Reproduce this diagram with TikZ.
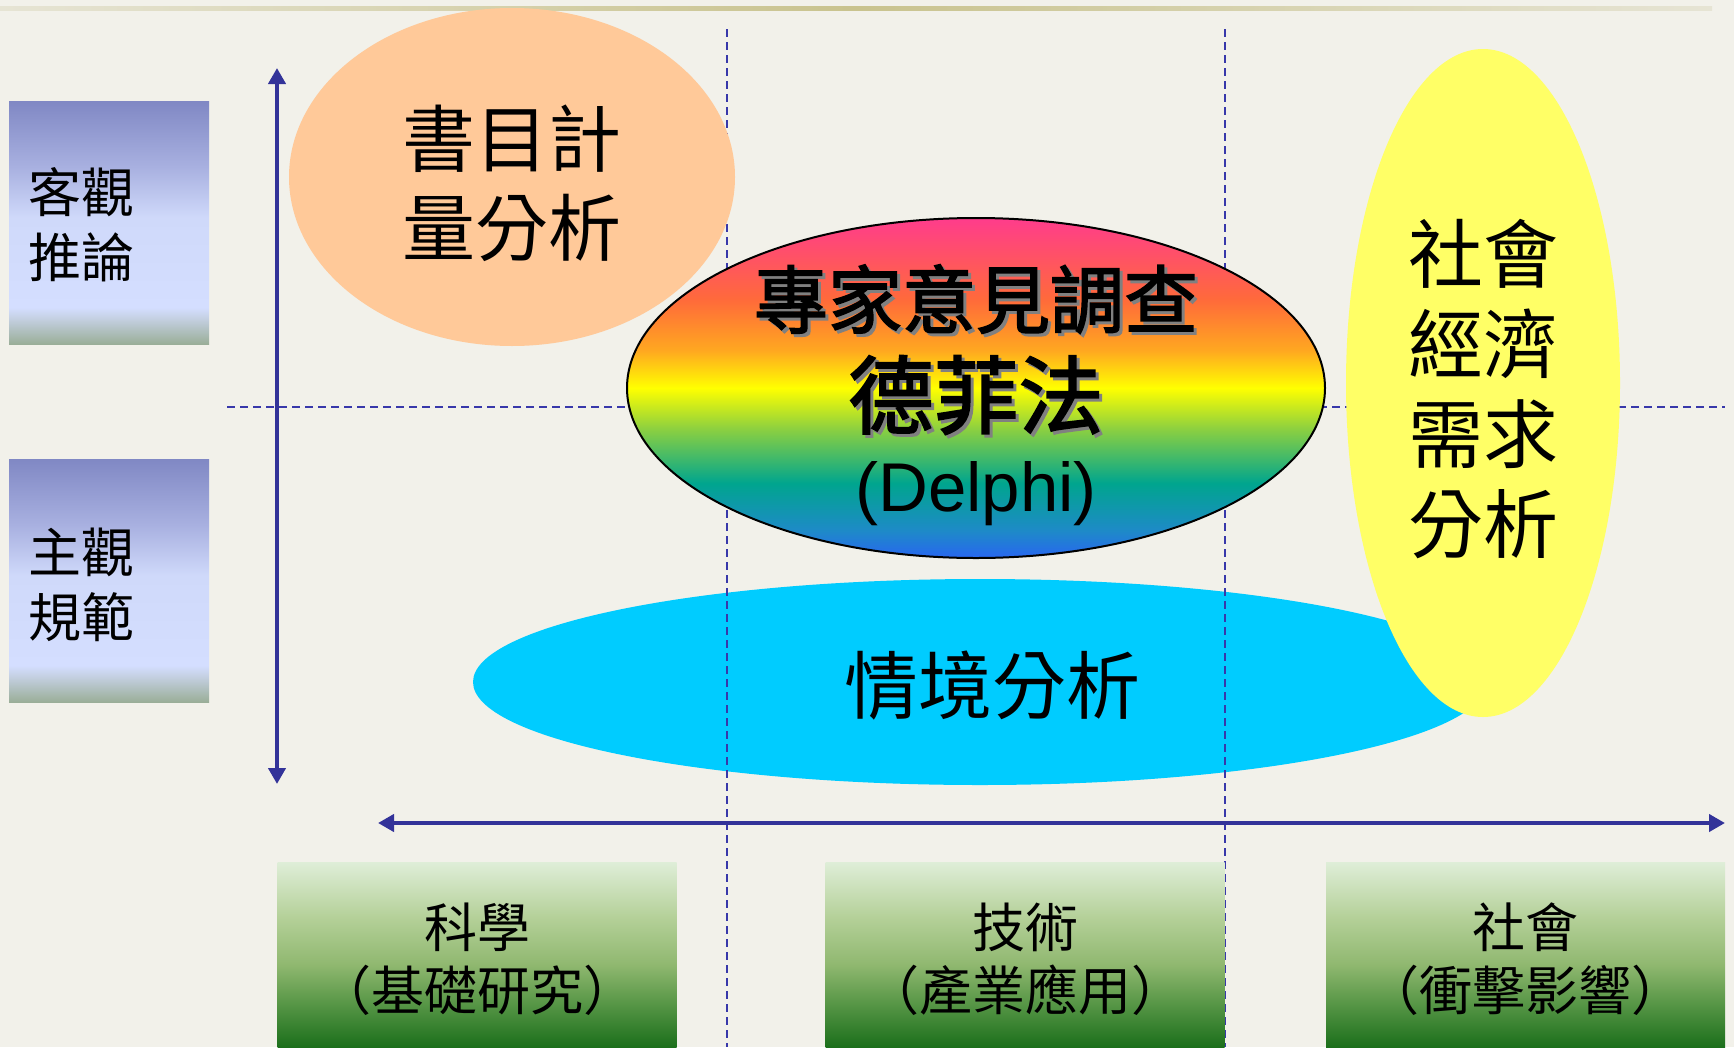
\documentclass[tikz,border=0pt]{standalone}
\usepackage{fontspec}
\setmainfont{Liberation Sans}
\newfontfamily\cjk{Noto Sans CJK TC}
\newfontfamily\cjkbold[FakeBold=2.2]{Noto Sans CJK TC}
\usetikzlibrary{shapes.geometric,arrows.meta}

\definecolor{bg}{HTML}{F2F1EA}
\definecolor{lineend}{HTML}{E6E4D4}
\definecolor{linemid}{HTML}{C9C38E}
\definecolor{axisblue}{HTML}{333399}
\definecolor{dashblue}{HTML}{3838AA}
\definecolor{peach}{HTML}{FFC999}
\definecolor{cyanfill}{HTML}{00CCFF}
\definecolor{yellowfill}{HTML}{FFFF66}

\definecolor{rbPink}{HTML}{FF3C8C}
\definecolor{rbRed}{HTML}{FF6A3A}
\definecolor{rbOrange}{HTML}{FFA820}
\definecolor{rbYellow}{HTML}{FFFF00}
\definecolor{rbGreen}{HTML}{8CD040}
\definecolor{rbTeal}{HTML}{00A58E}
\definecolor{rbBlueA}{HTML}{1E8AC8}
\definecolor{rbBlue}{HTML}{2866F0}

\definecolor{bbA}{HTML}{8088C4}
\definecolor{bbB}{HTML}{A8B0E0}
\definecolor{bbC}{HTML}{CFD9FA}
\definecolor{bbD}{HTML}{D4DEFF}
\definecolor{bbE}{HTML}{C2CEDE}
\definecolor{bbF}{HTML}{9AAE98}

\definecolor{gbA}{HTML}{DFEED8}
\definecolor{gbB}{HTML}{B4D098}
\definecolor{gbC}{HTML}{90B870}
\definecolor{gbD}{HTML}{5A9848}
\definecolor{gbE}{HTML}{1A6E1A}

\pgfdeclareverticalshading{rainbow}{100bp}{color(0bp)=(rbBlue); color(25bp)=(rbBlue); color(29bp)=(rbBlueA); color(36bp)=(rbTeal); color(44bp)=(rbGreen); color(50bp)=(rbYellow); color(55.5bp)=(rbOrange); color(63bp)=(rbRed); color(75bp)=(rbPink); color(100bp)=(rbPink)}
\pgfdeclareverticalshading{bluebox}{100bp}{color(0bp)=(bbF); color(25bp)=(bbF); color(30bp)=(bbE); color(32.5bp)=(bbD); color(51bp)=(bbC); color(61.5bp)=(bbB); color(75bp)=(bbA); color(100bp)=(bbA)}
\pgfdeclareverticalshading{greenbox}{100bp}{color(0bp)=(gbE); color(25bp)=(gbE); color(37.5bp)=(gbD); color(47.5bp)=(gbC); color(60bp)=(gbB); color(75bp)=(gbA); color(100bp)=(gbA)}

\tikzset{
  bluerect/.style={rectangle, inner sep=0pt, minimum width=200pt, minimum height=243pt, shading=bluebox},
  greenrect/.style={rectangle, inner sep=0pt, minimum width=399pt, minimum height=186pt, shading=greenbox},
  sidelabel/.style={anchor=west, inner sep=0pt, align=left, font=\cjk\fontsize{53}{65}\selectfont},
  boxlabel/.style={inner sep=0pt, align=center, font=\cjk\fontsize{53}{63}\selectfont},
  gridline/.style={dashblue, line width=2pt, dash pattern=on 8pt off 5pt},
  axisarrow/.style={axisblue, line width=4pt, {Triangle[length=16pt,width=17pt]}-{Triangle[length=16pt,width=17pt]}},
  blob/.style={ellipse, inner sep=0pt, draw=none},
  cjktext/.style={inner sep=0pt, align=center, font=\cjk\fontsize{#1}{#1}\selectfont},
  cjkboldtext/.style={inner sep=0pt, align=center, font=\cjkbold\fontsize{#1}{#1}\selectfont},
}

\begin{document}
\begin{tikzpicture}[x=1pt,y=-1pt]
\useasboundingbox (0,0) rectangle (1734,1047);
\fill[bg] (0,0) rectangle (1734,1047);
\shade[left color=lineend, right color=lineend, middle color=linemid] (0,6) rectangle (1712,10);

% scenario ellipse (under the grid lines)
\node[blob, fill=cyanfill, minimum width=1014pt, minimum height=206pt] (scen) at (980,682) {};

% grid lines
\coordinate (v1t) at (727,29);
\coordinate (v1b) at (727,1047);
\coordinate (v2t) at (1225,29);
\coordinate (v2b) at (1225,1047);
\coordinate (hl) at (227,407);
\coordinate (hr) at (1725,407);
\draw[gridline] (v1t) -- (v1b);
\draw[gridline] (v2t) -- (v2b);
\draw[gridline] (hl) -- (hr);

% other ellipses
\node[blob, fill=peach, minimum width=446pt, minimum height=338pt] (biblio) at (512,177) {};
\node[blob, draw=black, line width=2pt, shading=rainbow, minimum width=698pt, minimum height=340pt] (delphi) at (976,388) {};
\node[blob, fill=yellowfill, minimum width=274pt, minimum height=668pt] (socio) at (1483,383) {};

% ellipse texts
\node[cjktext=73, text width=300pt, font=\cjk\fontsize{73}{89}\selectfont] (biblioT) at (512,183) {書目計\\量分析};
\node[cjkboldtext=74, text=black!50] (expertS) at (979,302) {專家意見調查};
\node[cjkboldtext=74] (expertT) at (976,299) {專家意見調查};
\node[cjkboldtext=85, text=black!50] (dfS) at (979,398) {德菲法};
\node[cjkboldtext=85] (dfT) at (976,395) {德菲法};
\node[inner sep=0pt, font=\fontsize{69}{69}\selectfont] (delphiT) at (976,494) {(Delphi)};
\node[cjktext=74] (scenT) at (992,686) {情境分析};
\node[cjktext=75, text width=200pt, font=\cjk\fontsize{75}{90}\selectfont] (socioT) at (1483,389) {社會\\經濟\\需求\\分析};

% axes
\coordinate (vt) at (277,68);
\coordinate (vb) at (277,784);
\coordinate (hL) at (378,823);
\coordinate (hR) at (1725,823);
\draw[axisarrow] (vb) -- (vt);
\draw[axisarrow] (hL) -- (hR);

% left boxes
\node[bluerect] (obj) at (109,222.5) {};
\node[sidelabel] (objT) at (28,225) {客觀\\推論};
\node[bluerect] (subj) at (109,580.5) {};
\node[sidelabel] (subjT) at (28,585) {主觀\\規範};

% bottom boxes
\node[greenrect] (sci) at (477,955) {};
\node[boxlabel] (sciT) at (477,959) {科學\\（基礎研究）};
\node[greenrect] (tech) at (1025,955) {};
\node[boxlabel] (techT) at (1025,959) {技術\\（產業應用）};
\node[greenrect] (soc) at (1525.5,955) {};
\node[boxlabel] (socT) at (1525.5,959) {社會\\（衝擊影響）};
\end{tikzpicture}
\end{document}
